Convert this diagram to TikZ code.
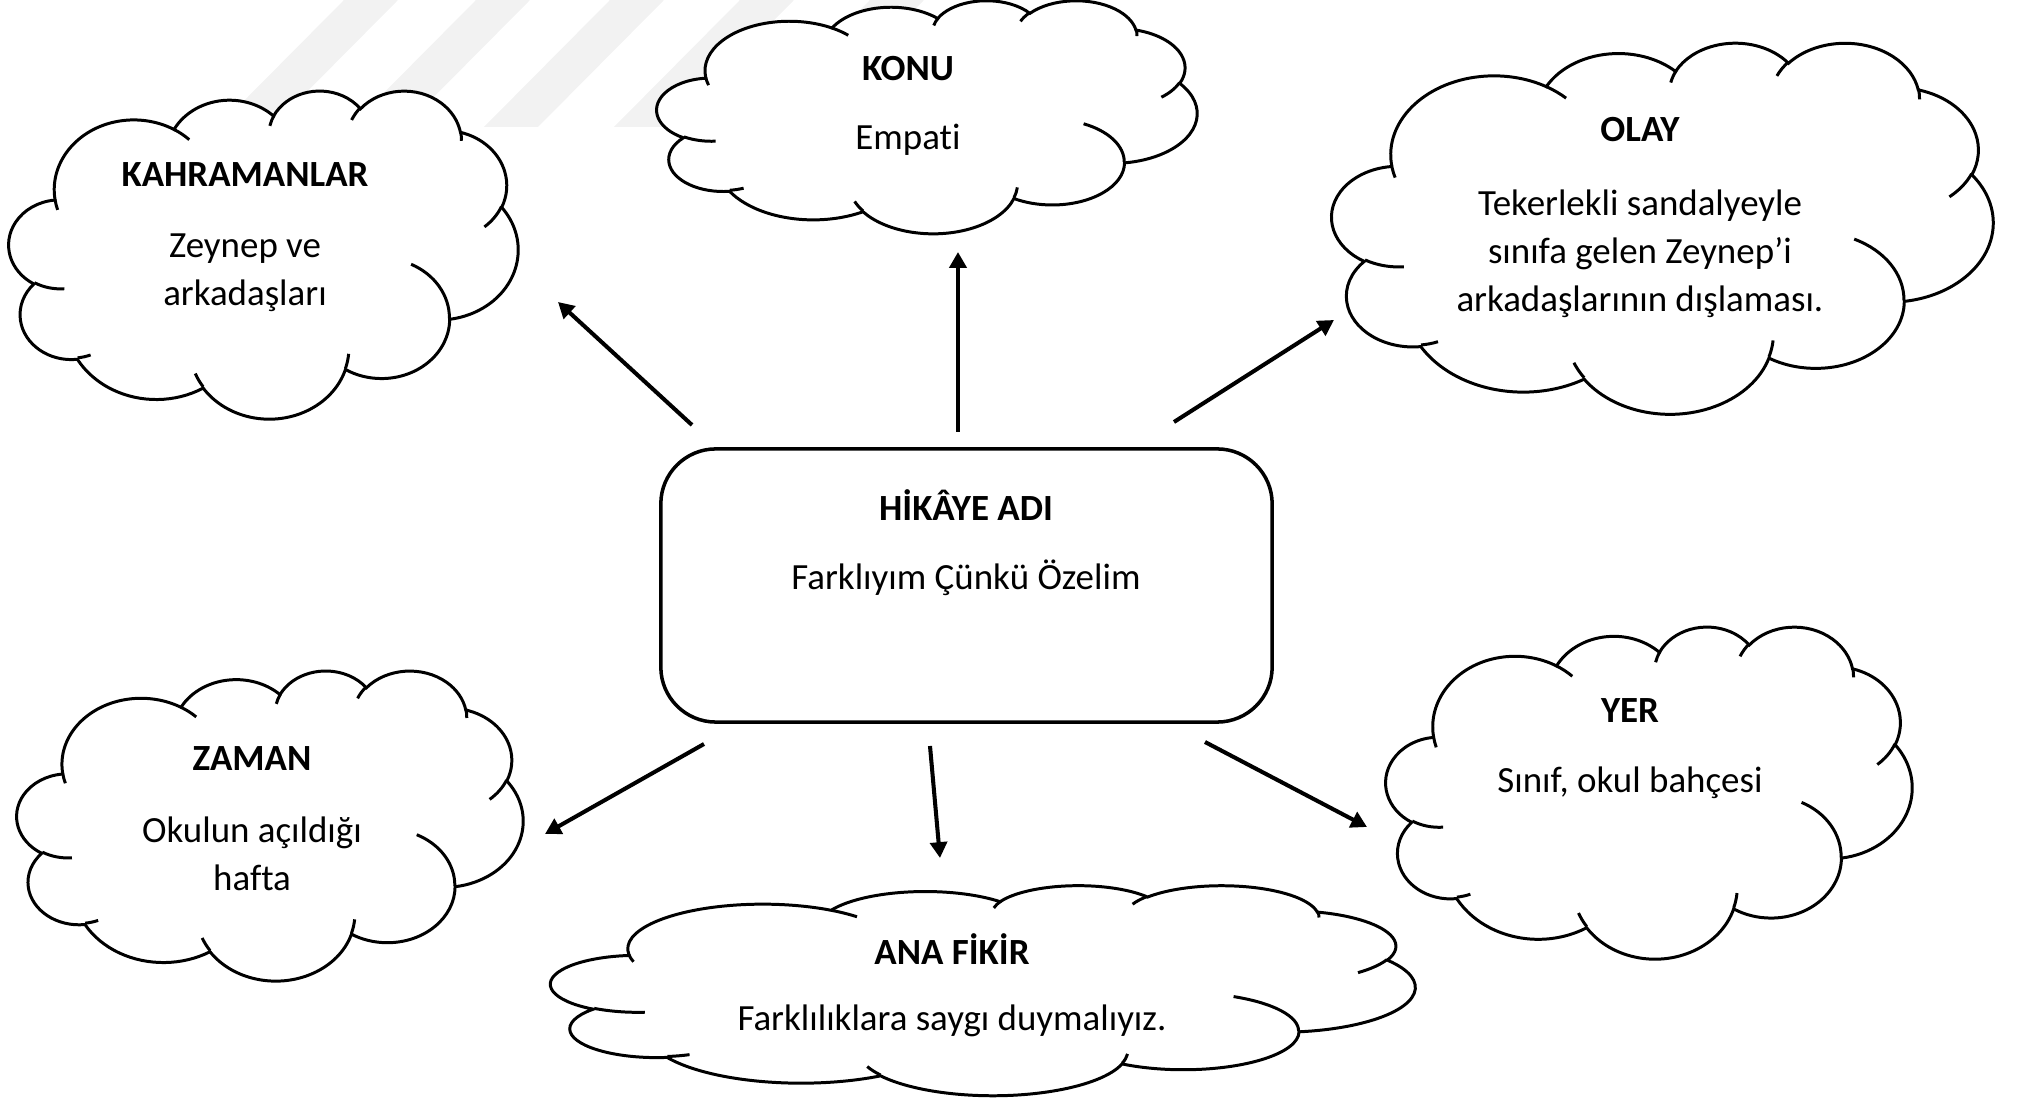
\documentclass[tikz,border=0pt]{standalone}
\usepackage{fontspec}
\setmainfont{Carlito}[Ligatures=NoCommon]
\usetikzlibrary{arrows.meta}

% one arc of the cloud outline, angles given as seen on the ellipse
\newcommand{\cloudarc}[4]{%
  \pgfextra{%
    \pgfmathsetmacro\cas{atan2(#1*sin(#3),#2*cos(#3))}%
    \pgfmathsetmacro\cae{atan2(#1*sin(#3+#4),#2*cos(#3+#4))}%
    \pgfmathsetmacro\cad{mod(\cae-\cas+720,360)}%
    \global\let\cloudS\cas\global\let\cloudD\cad}%
  arc[x radius=#1, y radius=#2, start angle=\cloudS, delta angle=\cloudD]}

% cloud in the box: left, top, width, height
\newcommand{\cloud}[4]{%
  \begin{scope}[shift={(#1,#2)}, xscale=#3/43.2, yscale=#4/43.2]
    \draw[cloudline, fill=white] (3.900,14.370)
      \cloudarc{6.753}{9.190}{-190.4875}{123.7805}
      \cloudarc{5.333}{7.267}{-144.1024}{89.9452}
      \cloudarc{4.365}{5.945}{-145.8079}{99.7230}
      \cloudarc{4.857}{6.595}{-130.9861}{117.2417}
      \cloudarc{5.333}{7.273}{-78.7089}{109.0269}
      \cloudarc{6.775}{9.220}{-46.2673}{130.2690}
      \cloudarc{5.785}{7.867}{0.6250}{114.0333}
      \cloudarc{6.752}{9.215}{22.4516}{115.1726}
      \cloudarc{7.720}{10.543}{66.2426}{75.7110}
      \cloudarc{4.360}{5.918}{-274.9421}{146.7356}
      \cloudarc{4.345}{5.945}{-246.8285}{152.5189} -- cycle;
    % inner folds
    \draw[cloudline]
      (4.693,26.177) \cloudarc{4.345}{5.945}{86.7420}{26.4295}
      (6.928,34.899) \cloudarc{4.360}{5.918}{73.6105}{11.4475}
      (16.478,39.090) \cloudarc{6.752}{9.215}{137.6242}{14.0811}
      (28.827,34.751) \cloudarc{6.752}{9.215}{6.4533}{15.9984}
      (34.129,22.954) \cloudarc{5.785}{7.867}{-70.2924}{70.9174}
      (41.798,15.354) \cloudarc{5.333}{7.273}{30.3180}{27.7515}
      (38.324,5.426) \cloudarc{4.857}{6.595}{-13.7443}{14.8589}
      (29.078,3.952) \cloudarc{4.857}{6.595}{-149.1815}{18.1954}
      (22.141,4.720) \cloudarc{4.365}{5.945}{-163.4943}{17.6864}
      (14.000,5.192) \cloudarc{6.753}{9.190}{-66.7070}{12.3194}
      (4.127,15.789) \cloudarc{6.753}{9.190}{157.6544}{11.8582};
  \end{scope}}

\tikzset{
  cloudline/.style={line width=0.85pt},
  storybox/.style={draw, line width=1pt, rounded corners=0.55cm,
    minimum width=6.11cm, minimum height=2.73cm},
  title/.style={font=\bfseries\fontsize{10.5}{13.66}\selectfont, anchor=base, inner sep=0pt},
  body/.style={font=\fontsize{10.5}{13.66}\selectfont, align=center, anchor=base, inner sep=0pt},
  pointer/.style={-{Triangle[length=4.5pt,width=4.8pt]}, line width=1.15pt},
  wmark/.style={fill=black!5}
}

\begin{document}
\begin{tikzpicture}[x=0.01cm, y=-0.01cm]
    \useasboundingbox (0,0) rectangle (2017,1101);

    % watermark stripes
    \fill[wmark] (218,127) -- (272,127) -- (398,0) -- (344,0) -- cycle;
    \fill[wmark] (350,127) -- (404,127) -- (530,0) -- (476,0) -- cycle;
    \fill[wmark] (484,127) -- (538,127) -- (664,0) -- (610,0) -- cycle;
    \fill[wmark] (614,127) -- (668,127) -- (794,0) -- (740,0) -- cycle;
    \fill[wmark] (744,127) -- (798,127) -- (924,0) -- (870,0) -- cycle;

    % clouds
    \cloud{9}{90}{509}{328}
    \cloud{657}{0}{540}{233}
    \cloud{1332}{42}{661}{371}
    \cloud{17}{670}{506}{310}
    \cloud{551}{885}{864}{210}
    \cloud{1386}{626}{526}{332}

    % story box
    \node[storybox] (hikaye) at (966.5,585.5) {};
    \node[title] (hikayeT) at (966,521) {HİKÂYE ADI};
    \node[body] (hikayeB) at (966,590) {Farklıyım Çünkü Özelim};

    \node[title] (kahramanT) at (245,187) {KAHRAMANLAR};
    \node[body] (kahramanB) at (245,306) {Zeynep ve\\arkadaşları};

    \node[title] (konuT) at (908,81) {KONU};
    \node[body] (konuB) at (908,150) {Empati};

    \node[title] (olayT) at (1640,142) {OLAY};
    \node[body] (olayB) at (1640,312) {Tekerlekli sandalyeyle\\sınıfa gelen Zeynep’i\\arkadaşlarının dışlaması.};

    \node[title] (zamanT) at (252,771) {ZAMAN};
    \node[body] (zamanB) at (252,891) {Okulun açıldığı\\hafta};

    \node[title] (fikirT) at (952,965) {ANA FİKİR};
    \node[body] (fikirB) at (952,1031) {Farklılıklara saygı duymalıyız.};

    \node[title] (yerT) at (1630,723) {YER};
    \node[body] (yerB) at (1630,793) {Sınıf, okul bahçesi};

    % arrow ends
    \coordinate (kahramanS) at (692,425);
    \coordinate (kahramanE) at (558,302);
    \coordinate (konuS) at (958,432);
    \coordinate (konuE) at (958,252);
    \coordinate (olayS) at (1174,422);
    \coordinate (olayE) at (1334,320);
    \coordinate (zamanS) at (704,744);
    \coordinate (zamanE) at (545,834);
    \coordinate (fikirS) at (930,746);
    \coordinate (fikirE) at (940,858);
    \coordinate (yerS) at (1205,742);
    \coordinate (yerE) at (1367,827);

    \draw[pointer] (kahramanS) -- (kahramanE);
    \draw[pointer] (konuS) -- (konuE);
    \draw[pointer] (olayS) -- (olayE);
    \draw[pointer] (zamanS) -- (zamanE);
    \draw[pointer] (fikirS) -- (fikirE);
    \draw[pointer] (yerS) -- (yerE);
\end{tikzpicture}
\end{document}
